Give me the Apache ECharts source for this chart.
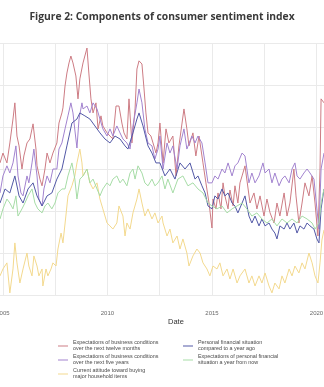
<!DOCTYPE html>
<html>
<head>
<meta charset="utf-8">
<style>
  html, body { margin: 0; padding: 0; background: #ffffff; }
  #chart { width: 324px; height: 387px; }
</style>
<script src="https://cdn.jsdelivr.net/npm/echarts@6/dist/echarts.min.js"></script>
</head>
<body>
<div id="chart"></div>
<script>
// Component series of the consumer sentiment index, [decimal year, index value]
const business12 = [
  [2004.86,102.9],[2005.00,107.6],[2005.19,102.9],[2005.33,112.4],[2005.48,123.8],[2005.57,131.5],
  [2005.67,115.7],[2005.77,111.0],[2005.91,100.0],[2006.00,106.2],[2006.15,112.4],[2006.29,114.3],
  [2006.44,121.5],[2006.58,109.5],[2006.63,101.5],[2006.77,95.2],[2006.87,92.0],[2007.01,100.0],
  [2007.11,107.6],[2007.25,102.9],[2007.39,107.6],[2007.58,112.4],[2007.68,121.9],[2007.82,126.7],
  [2007.87,129.1],[2007.97,139.5],[2008.06,145.7],[2008.16,150.5],[2008.25,153.8],[2008.35,150.5],
  [2008.49,144.3],[2008.59,133.4],[2008.68,142.9],[2008.83,150.5],[2009.02,157.6],[2009.11,145.7],
  [2009.21,133.4],[2009.31,126.7],[2009.45,131.5],[2009.55,119.1],[2009.69,125.3],[2009.78,120.5],
  [2009.98,117.2],[2010.12,115.7],[2010.26,114.3],[2010.41,130.0],[2010.55,130.0],[2010.69,121.9],
  [2010.79,117.2],[2010.93,114.3],[2011.03,133.4],[2011.17,112.4],[2011.32,128.6],[2011.41,147.6],
  [2011.51,151.5],[2011.65,150.0],[2011.75,138.1],[2011.84,126.7],[2011.94,117.2],[2012.08,115.7],
  [2012.18,112.4],[2012.32,107.6],[2012.42,112.4],[2012.51,121.9],[2012.66,102.9],[2012.80,119.1],
  [2012.94,112.4],[2013.13,115.7],[2013.28,96.7],[2013.42,111.0],[2013.66,128.6],[2013.80,119.1],
  [2013.90,111.0],[2014.09,117.2],[2014.23,106.2],[2014.38,115.7],[2014.57,102.9],[2014.71,93.4],
  [2014.86,83.8],[2015.00,71.9],[2015.05,85.7],[2015.19,81.0],[2015.29,88.6],[2015.43,81.0],
  [2015.53,93.4],[2015.62,87.2],[2015.77,81.0],[2015.86,90.0],[2016.01,82.4],[2016.10,92.0],
  [2016.24,83.8],[2016.34,93.4],[2016.44,96.7],[2016.58,101.5],[2016.82,83.8],[2017.01,88.6],
  [2017.15,81.0],[2017.30,87.2],[2017.49,77.6],[2017.63,85.7],[2017.78,79.1],[2017.97,74.3],
  [2018.11,83.8],[2018.25,77.6],[2018.45,88.6],[2018.59,77.6],[2018.73,83.8],[2018.92,100.0],
  [2019.02,87.2],[2019.16,74.3],[2019.31,83.8],[2019.45,93.4],[2019.64,87.2],[2019.79,96.7],
  [2019.93,83.8],[2020.07,68.1],[2020.17,100.0],[2020.22,133.4],[2020.36,131.5]
];

const business5 = [
  [2004.86,88.6],[2005.00,96.7],[2005.19,101.5],[2005.33,98.1],[2005.48,102.9],[2005.62,111.0],
  [2005.72,96.7],[2005.86,88.6],[2005.96,87.2],[2006.15,96.7],[2006.24,93.4],[2006.39,102.9],
  [2006.48,109.5],[2006.63,96.7],[2006.72,85.7],[2006.87,82.4],[2006.96,90.5],[2007.11,96.7],
  [2007.25,93.4],[2007.39,100.0],[2007.58,100.0],[2007.68,109.5],[2007.82,112.4],[2007.97,119.1],
  [2008.11,125.3],[2008.25,131.5],[2008.35,126.7],[2008.44,118.6],[2008.54,110.0],[2008.64,123.8],
  [2008.78,131.5],[2008.83,128.6],[2009.02,130.0],[2009.16,126.7],[2009.31,131.5],[2009.50,128.6],
  [2009.64,123.8],[2009.78,119.1],[2009.98,115.7],[2010.12,119.1],[2010.26,115.7],[2010.45,120.5],
  [2010.60,117.2],[2010.74,114.3],[2010.93,112.4],[2011.08,109.5],[2011.22,120.5],[2011.41,131.5],
  [2011.51,138.1],[2011.65,131.5],[2011.79,119.1],[2011.94,112.4],[2012.13,111.0],[2012.27,104.8],
  [2012.42,109.5],[2012.51,115.7],[2012.66,100.0],[2012.85,112.4],[2012.99,107.6],[2013.13,111.0],
  [2013.33,100.0],[2013.47,111.0],[2013.66,119.1],[2013.80,109.5],[2014.04,115.7],[2014.19,112.4],
  [2014.33,115.7],[2014.52,112.4],[2014.67,102.9],[2014.81,93.4],[2015.00,93.4],[2015.14,96.7],
  [2015.29,95.2],[2015.48,100.0],[2015.62,98.1],[2015.77,102.9],[2015.96,96.7],[2016.10,101.5],
  [2016.24,102.9],[2016.44,107.6],[2016.58,106.2],[2016.77,93.4],[2016.91,98.1],[2017.06,93.4],
  [2017.25,96.7],[2017.44,102.9],[2017.54,98.1],[2017.73,100.0],[2017.87,93.4],[2018.01,98.1],
  [2018.21,92.0],[2018.35,95.2],[2018.49,96.7],[2018.69,93.4],[2018.83,100.0],[2018.97,102.9],
  [2019.07,96.7],[2019.21,95.2],[2019.40,98.1],[2019.55,100.0],[2019.69,98.1],[2019.88,95.2],
  [2020.02,81.0],[2020.12,71.4],[2020.22,100.0],[2020.36,107.6]
];

const buying = [
  [2004.86,49.1],[2005.00,52.4],[2005.19,55.3],[2005.33,41.0],[2005.48,52.4],[2005.57,64.8],
  [2005.67,55.3],[2005.81,45.7],[2005.96,52.4],[2006.15,60.0],[2006.24,53.8],[2006.39,49.1],
  [2006.48,58.6],[2006.63,53.8],[2006.72,49.1],[2006.87,52.4],[2006.91,44.3],[2007.06,52.4],
  [2007.15,49.1],[2007.30,52.4],[2007.39,55.3],[2007.54,53.8],[2007.63,61.9],[2007.78,69.5],
  [2007.87,64.8],[2008.01,77.6],[2008.11,87.2],[2008.30,92.0],[2008.44,96.7],[2008.54,102.9],
  [2008.68,109.5],[2008.78,102.9],[2008.83,96.7],[2009.02,100.0],[2009.16,93.4],[2009.31,90.5],
  [2009.50,93.4],[2009.64,85.7],[2009.78,81.0],[2009.98,74.3],[2010.12,72.9],[2010.26,71.4],
  [2010.45,74.3],[2010.55,82.4],[2010.74,77.6],[2010.84,68.1],[2010.93,74.3],[2011.08,71.4],
  [2011.22,79.1],[2011.41,85.7],[2011.51,90.5],[2011.65,83.8],[2011.79,77.6],[2011.94,81.0],
  [2012.13,76.2],[2012.27,79.1],[2012.42,74.3],[2012.61,77.6],[2012.66,74.3],[2012.85,68.1],
  [2012.99,71.4],[2013.13,64.8],[2013.33,68.1],[2013.47,61.9],[2013.61,66.7],[2013.80,60.0],
  [2013.90,53.8],[2014.09,58.6],[2014.28,61.9],[2014.43,60.0],[2014.57,55.3],[2014.76,52.4],
  [2014.90,49.1],[2015.05,53.8],[2015.24,52.4],[2015.38,55.3],[2015.53,49.1],[2015.72,52.4],
  [2015.86,47.6],[2016.01,52.4],[2016.20,45.7],[2016.34,49.1],[2016.58,52.4],[2016.77,45.7],
  [2016.91,49.1],[2017.06,44.3],[2017.25,49.1],[2017.39,45.7],[2017.54,50.5],[2017.73,44.3],
  [2017.87,41.0],[2018.01,45.7],[2018.21,42.9],[2018.35,49.1],[2018.49,45.7],[2018.69,52.4],
  [2018.83,49.1],[2018.97,53.8],[2019.16,50.5],[2019.31,55.3],[2019.45,52.4],[2019.64,60.0],
  [2019.79,55.3],[2019.93,49.1],[2020.07,45.7],[2020.17,55.3],[2020.26,66.2],[2020.36,71.0]
];

const personalPast = [
  [2004.86,83.8],[2005.10,90.5],[2005.33,88.6],[2005.57,96.7],[2005.77,87.2],[2005.96,83.8],
  [2006.20,90.5],[2006.44,93.4],[2006.63,87.2],[2006.87,82.4],[2007.11,87.2],[2007.34,88.6],
  [2007.58,95.2],[2007.82,100.0],[2008.06,111.0],[2008.30,121.9],[2008.54,123.8],[2008.68,126.7],
  [2008.92,125.3],[2009.16,123.8],[2009.40,120.5],[2009.64,117.2],[2009.88,114.3],[2010.12,112.4],
  [2010.36,115.7],[2010.60,114.3],[2010.84,111.0],[2010.98,109.5],[2011.22,117.2],[2011.41,123.8],
  [2011.51,126.7],[2011.70,120.5],[2011.94,111.0],[2012.13,107.6],[2012.32,102.9],[2012.51,102.9],
  [2012.75,96.7],[2012.99,100.0],[2013.23,95.2],[2013.47,102.9],[2013.71,100.0],[2013.95,102.9],
  [2014.19,95.2],[2014.33,96.7],[2014.52,92.0],[2014.67,88.6],[2014.81,82.4],[2015.00,81.0],
  [2015.14,87.2],[2015.29,85.7],[2015.48,90.5],[2015.62,87.2],[2015.77,88.6],[2015.96,83.8],
  [2016.10,82.4],[2016.24,79.1],[2016.44,83.8],[2016.58,87.2],[2016.77,77.6],[2016.91,74.3],
  [2017.06,77.6],[2017.25,72.9],[2017.39,76.2],[2017.54,72.9],[2017.73,74.3],[2017.87,71.4],
  [2018.01,69.5],[2018.11,66.7],[2018.25,72.9],[2018.45,71.4],[2018.59,74.3],[2018.73,71.4],
  [2018.92,74.3],[2019.07,69.5],[2019.21,72.9],[2019.40,71.4],[2019.55,74.3],[2019.69,72.9],
  [2019.88,71.4],[2020.02,66.7],[2020.12,64.8],[2020.22,81.0],[2020.36,90.5]
];

const personalFuture = [
  [2004.86,76.2],[2005.00,81.0],[2005.19,85.7],[2005.33,83.8],[2005.48,81.0],[2005.62,87.2],
  [2005.72,77.6],[2005.91,81.0],[2006.05,83.8],[2006.20,87.2],[2006.39,90.5],[2006.53,83.8],
  [2006.67,81.0],[2006.87,79.1],[2007.01,82.4],[2007.15,83.8],[2007.34,81.0],[2007.49,83.8],
  [2007.63,88.6],[2007.82,90.5],[2007.97,90.5],[2008.11,96.7],[2008.30,102.9],[2008.44,95.2],
  [2008.54,85.7],[2008.68,95.2],[2008.83,96.7],[2009.02,100.0],[2009.16,93.4],[2009.31,95.2],
  [2009.50,90.5],[2009.64,87.2],[2009.78,90.5],[2009.98,93.4],[2010.12,92.0],[2010.26,95.2],
  [2010.45,96.7],[2010.60,93.4],[2010.74,95.2],[2010.93,92.0],[2011.08,98.1],[2011.22,100.0],
  [2011.32,95.2],[2011.46,101.5],[2011.65,98.1],[2011.79,93.4],[2011.94,92.0],[2012.13,95.2],
  [2012.27,92.0],[2012.42,93.4],[2012.61,96.7],[2012.75,90.5],[2012.89,95.2],[2013.13,88.6],
  [2013.37,95.2],[2013.61,96.7],[2013.85,92.0],[2014.09,93.4],[2014.33,90.5],[2014.57,88.6],
  [2014.81,83.8],[2015.00,82.4],[2015.24,81.0],[2015.48,82.4],[2015.72,79.1],[2015.96,81.0],
  [2016.20,82.4],[2016.44,83.8],[2016.67,81.0],[2016.91,77.6],[2017.15,79.1],[2017.39,76.2],
  [2017.63,74.3],[2017.87,76.2],[2018.11,72.9],[2018.35,76.2],[2018.59,74.3],[2018.83,76.2],
  [2019.07,74.3],[2019.31,77.6],[2019.55,76.2],[2019.79,74.3],[2019.93,71.4],[2020.12,74.3],
  [2020.22,83.8],[2020.36,90.5]
];

// Series labels, split into the two lines shown in the legend
const seriesLabels = [
  ['Expectations of business conditions', 'over the next twelve months'],
  ['Expectations of business conditions', 'over the next five years'],
  ['Current attitude toward buying', 'major household items'],
  ['Personal financial situation', 'compared to a year ago'],
  ['Expectations of personal financial', 'situation a year from now']
];
const seriesData = [business12, business5, buying, personalPast, personalFuture];
const seriesColors = ['#cd7c84', '#a283cf', '#f3d98e', '#5258a6', '#a6dca6'];

const xTickLabels = [2005, 2010, 2015, 2020];
const yTicks = { min: 40, max: 160, step: 20 };

const names = seriesLabels.map(l => l.join(' '));
const labelByName = {};
names.forEach((n, i) => { labelByName[n] = seriesLabels[i].join('\n'); });

const chart = echarts.init(document.getElementById('chart'), null, { renderer: 'canvas' });

const legendCommon = {
  orient: 'vertical',
  icon: 'rect',
  itemWidth: 10,
  itemHeight: 1,
  itemGap: 2,
  selectedMode: false,
  padding: 0,
  formatter: n => labelByName[n],
  textStyle: { fontFamily: 'Liberation Sans', fontSize: 5.4, lineHeight: 6, color: '#4a4a4a' }
};

chart.setOption({
  animation: false,
  backgroundColor: '#ffffff',
  title: {
    text: 'Figure 2: Components of consumer sentiment index',
    left: 'center',
    top: 7,
    textStyle: { fontFamily: 'Open Sans', fontWeight: 'bold', fontSize: 10.3, color: '#3a3a3a' }
  },
  grid: { left: -49.3, right: 0, top: 43, bottom: 92, outerBoundsMode: 'none', containLabel: false },
  xAxis: {
    type: 'value',
    min: 2002.5,
    max: 2020.36,
    interval: 2.5,
    axisLine: { show: false },
    axisTick: { show: false },
    splitLine: { show: true, lineStyle: { color: '#eaeaea', width: 1 } },
    axisLabel: {
      formatter: v => (xTickLabels.includes(v) ? String(v) : ''),
      fontFamily: 'Liberation Sans',
      fontSize: 6,
      color: '#6a6a6a',
      margin: 15,
      showMinLabel: true,
      showMaxLabel: true,
      hideOverlap: false
    }
  },
  yAxis: {
    type: 'value',
    min: yTicks.min,
    max: yTicks.max,
    interval: yTicks.step,
    axisLine: { show: false },
    axisTick: { show: false },
    axisLabel: { show: false },
    splitLine: { show: true, lineStyle: { color: '#eaeaea', width: 1 } }
  },
  legend: [
    Object.assign({}, legendCommon, { left: 58, top: 340, data: names.slice(0, 3) }),
    Object.assign({}, legendCommon, { left: 183, top: 340, data: names.slice(3) })
  ],
  graphic: [{
    type: 'text',
    left: 168,
    top: 318,
    style: { text: 'Date', fontFamily: 'Liberation Sans', fontSize: 7.5, fill: '#333333' }
  }],
  series: seriesData.map((d, i) => ({
    name: names[i],
    type: 'line',
    data: d,
    showSymbol: false,
    symbol: 'none',
    color: seriesColors[i],
    lineStyle: { width: 1, color: seriesColors[i] },
    emphasis: { disabled: true }
  }))
});
</script>
</body>
</html>
